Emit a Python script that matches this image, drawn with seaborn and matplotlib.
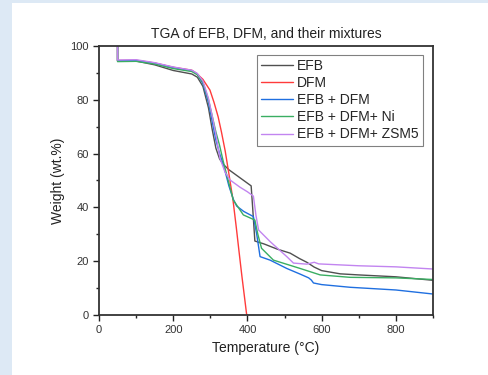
import pandas as pd
import matplotlib.pyplot as plt
import matplotlib.patches as mpatches
from matplotlib.ticker import MultipleLocator
import seaborn as sns

# TGA curves (temperature in degC, weight in wt.%)
efb_t = [50, 50, 100, 150, 200, 250, 265, 280, 295, 305, 315, 325, 335, 350, 370, 390,
         410, 414, 420, 445, 480, 515, 540, 560, 580, 600, 650, 700, 800, 900]
efb_w = [100, 94.5, 94.4, 93.0, 90.9, 89.6, 88.4, 85, 77, 69, 62, 58, 56, 54, 52, 50,
         48, 40, 27.5, 26.4, 24.5, 23, 21, 19.6, 17.8, 16.5, 15.3, 14.9, 14.2, 12.9]

dfm_t = [50, 50, 100, 150, 200, 250, 263, 280, 299, 310, 321, 330, 340, 350, 361, 370,
         377, 385, 393, 398]
dfm_w = [100, 94.6, 94.7, 93.7, 92.1, 91.0, 89.8, 87.6, 83.6, 79, 73.7, 68, 61, 52.5, 42.8, 32.5,
         24, 14.5, 5.6, 0]

mix_t = [50, 50, 100, 150, 200, 250, 265, 280, 295, 305, 315, 325, 335, 350, 362, 371,
         390, 416, 425, 434, 461, 506, 542, 565, 572, 578, 600, 677, 800, 900]
mix_w = [100, 94.5, 94.6, 93.6, 92.0, 90.8, 89.5, 86, 79, 72, 65, 60, 56, 48, 43, 40.5,
         38.5, 36.6, 30, 21.7, 20.4, 17.3, 15.2, 13.8, 13.0, 11.9, 11.3, 10.3, 9.3, 7.8]

ni_t = [50, 50, 100, 150, 200, 250, 265, 280, 295, 305, 315, 325, 335, 350, 362, 389,
        420, 428, 438, 470, 542, 596, 677, 800, 900]
ni_w = [100, 94.2, 94.3, 93.3, 91.6, 90.5, 89.3, 86.5, 80, 74, 68, 63, 57, 49, 42.7, 37.2,
        35.3, 30, 24.8, 20.4, 17.3, 14.9, 14.0, 13.8, 13.2]

zsm_t = [50, 50, 100, 150, 200, 250, 265, 280, 295, 305, 315, 326, 340, 353, 380, 400,
         416, 423, 430, 461, 506, 524, 560, 580, 592, 700, 800, 900]
zsm_w = [100, 94.8, 94.9, 93.8, 92.2, 91.0, 89.8, 87, 80.5, 74, 67, 58.2, 53, 50.2, 47.5, 45.8,
         44.2, 37, 31.6, 27.3, 21.7, 19.3, 18.9, 19.6, 19.0, 18.3, 17.9, 17.1]

labels = ["EFB", "DFM", "EFB + DFM", "EFB + DFM+ Ni", "EFB + DFM+ ZSM5"]
colors = ["#505050", "#ff3b3b", "#1f6fe0", "#3aae62", "#c285f0"]

frames = []
for name, t, w in zip(labels, [efb_t, dfm_t, mix_t, ni_t, zsm_t],
                      [efb_w, dfm_w, mix_w, ni_w, zsm_w]):
    frames.append(pd.DataFrame({"Temperature": t, "Weight": w, "Sample": name}))
df = pd.concat(frames, ignore_index=True)

sns.set_style("ticks")
plt.rcParams["font.family"] = ["Liberation Sans", "DejaVu Sans"]

fig = plt.figure(figsize=(4.88, 3.75), dpi=100, facecolor="white")
# thin light blue strips along the left and top edges
strip = "#dde9f5"
fig.patches.append(mpatches.Rectangle((0, 0), 12 / 488, 1, transform=fig.transFigure,
                                      facecolor=strip, edgecolor="none", zorder=-1))
fig.patches.append(mpatches.Rectangle((0, 1 - 3 / 375), 1, 3 / 375, transform=fig.transFigure,
                                      facecolor=strip, edgecolor="none", zorder=-1))
ax = fig.add_axes([99 / 488, 60 / 375, 334 / 488, 269 / 375])
ax.set_facecolor("white")

sns.lineplot(data=df, x="Temperature", y="Weight", hue="Sample", hue_order=labels,
             palette=dict(zip(labels, colors)), estimator=None, sort=False,
             linewidth=1.0, ax=ax)

ax.set_xlim(0, 900)
ax.set_ylim(0, 100)
ax.xaxis.set_major_locator(MultipleLocator(200))
ax.xaxis.set_minor_locator(MultipleLocator(100))
ax.yaxis.set_major_locator(MultipleLocator(20))
ax.yaxis.set_minor_locator(MultipleLocator(10))
ax.set_xticks([0, 200, 400, 600, 800])
ax.tick_params(which="major", direction="out", length=4, width=1.0, labelsize=8,
               colors="#222222", labelcolor="#333333")
ax.tick_params(which="minor", direction="out", length=2.5, width=1.0, colors="#222222")
for s in ax.spines.values():
    s.set_visible(True)
    s.set_linewidth(1.3)
    s.set_color("#333333")

ax.set_xlabel("Temperature (°C)", fontsize=10, color="#222222")
ax.set_ylabel("Weight (wt.%)", fontsize=10, color="#222222")
ax.set_title("TGA of EFB, DFM, and their mixtures", fontsize=10, color="#222222", pad=6)

sns.move_legend(ax, "upper left", bbox_to_anchor=(0.473, 0.9665), title=None,
                frameon=True, fancybox=False, edgecolor="#808080", framealpha=1,
                fontsize=10, handlelength=2.3, handletextpad=0.3, labelspacing=0.22,
                borderpad=0.3, borderaxespad=0)
ax.get_legend().get_frame().set_linewidth(0.8)

fig.savefig("out.png", dpi=100, facecolor=fig.get_facecolor())
